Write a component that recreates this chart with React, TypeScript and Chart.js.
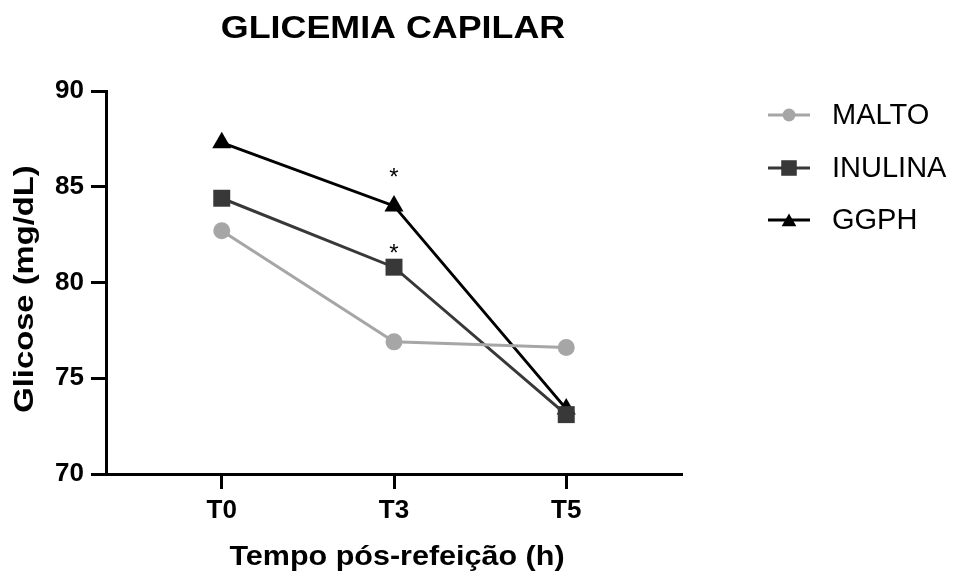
import React, { useEffect, useRef } from 'react';
import { Chart, registerables } from 'chart.js';

Chart.register(...registerables);

// ---- data ----
const categories = ['T0', 'T3', 'T5'];
const seriesNames = ['MALTO', 'INULINA', 'GGPH'];
const malto = [82.7, 76.9, 76.6];
const inulina = [84.4, 80.8, 73.1];
const ggph = [87.3, 84.0, 73.4];
const yTickValues = [70, 75, 80, 85, 90];
// asterisks: [series index, category index]
const significant = [
  [2, 1],
  [1, 1],
];
const titleText = 'GLICEMIA CAPILAR';
const xTitleText = 'Tempo pós-refeição (h)';
const yTitleText = 'Glicose (mg/dL)';

// ---- styles ----
const FONT = '"Liberation Sans", Arial, Helvetica, sans-serif';
const colors = ['#a6a6a6', '#383838', '#000000'];
const pointStyles = ['circle', 'rect', 'triangle'];
const pointRadii = [8.5, 12, 11];
const legendRadii = [6.5, 11, 8.5];
const starOffsets = [0, -21, -35];

function drawMarker(ctx: CanvasRenderingContext2D, style: string, x: number, y: number, r: number, color: string) {
  ctx.save();
  ctx.fillStyle = color;
  ctx.beginPath();
  if (style === 'circle') {
    ctx.arc(x, y, r, 0, Math.PI * 2);
  } else if (style === 'rect') {
    const s = r * Math.SQRT1_2;
    ctx.rect(x - s, y - s, 2 * s, 2 * s);
  } else {
    for (let k = 0; k < 3; k++) {
      const a = (k * 2 * Math.PI) / 3;
      const px = x + Math.sin(a) * r;
      const py = y - Math.cos(a) * r;
      if (k === 0) ctx.moveTo(px, py);
      else ctx.lineTo(px, py);
    }
    ctx.closePath();
  }
  ctx.fill();
  ctx.restore();
}

function stretchText(
  ctx: CanvasRenderingContext2D,
  text: string,
  x: number,
  y: number,
  font: string,
  sx: number,
  rot = 0
) {
  ctx.save();
  ctx.translate(x, y);
  if (rot) ctx.rotate(rot);
  ctx.scale(sx, 1);
  ctx.font = font;
  ctx.fillStyle = '#000';
  ctx.textAlign = 'center';
  ctx.textBaseline = 'alphabetic';
  ctx.fillText(text, 0, 0);
  ctx.restore();
}

const overlayPlugin = {
  id: 'overlay',
  afterDraw(chart: any) {
    const ctx: CanvasRenderingContext2D = chart.ctx;
    const area = chart.chartArea;
    const cx = (area.left + area.right) / 2;

    // title
    stretchText(ctx, titleText, cx - 1, 38, `bold 32px ${FONT}`, 1.12);
    // x title
    stretchText(ctx, xTitleText, cx + 3, 565, `bold 28px ${FONT}`, 1.09);
    // y title
    stretchText(ctx, yTitleText, 33, 289, `bold 28px ${FONT}`, 1.17, -Math.PI / 2);

    // asterisks
    const xs = chart.scales.x;
    const ys = chart.scales.y;
    const all = [malto, inulina, ggph];
    ctx.save();
    ctx.font = `24px ${FONT}`;
    ctx.fillStyle = '#000';
    ctx.textAlign = 'center';
    ctx.textBaseline = 'alphabetic';
    significant.forEach(([s, i]) => {
      const px = xs.getPixelForValue(i);
      const py = ys.getPixelForValue(all[s][i]) + starOffsets[s];
      ctx.fillText('*', px, py + 24 * 0.6);
    });
    ctx.restore();

    // legend
    const ly = [115, 168, 220];
    seriesNames.forEach((name, k) => {
      ctx.save();
      ctx.strokeStyle = colors[k];
      ctx.lineWidth = 3;
      ctx.beginPath();
      ctx.moveTo(768, ly[k]);
      ctx.lineTo(810, ly[k]);
      ctx.stroke();
      ctx.restore();
      drawMarker(ctx, pointStyles[k], 789, ly[k] + (pointStyles[k] === 'triangle' ? 2 : 0), legendRadii[k], colors[k]);
      ctx.save();
      ctx.font = `29px ${FONT}`;
      ctx.fillStyle = '#000';
      ctx.textAlign = 'left';
      ctx.textBaseline = 'middle';
      ctx.fillText(name, 832, ly[k] + 1);
      ctx.restore();
    });
  },
};

export default function App() {
  const ref = useRef<HTMLCanvasElement>(null);

  useEffect(() => {
    if (!ref.current) return;
    const all = [malto, inulina, ggph];
    const chart = new Chart(ref.current, {
      type: 'line',
      data: {
        datasets: seriesNames.map((name, k) => ({
          label: name,
          data: all[k].map((v, i) => ({ x: i, y: v })),
          borderColor: colors[k],
          backgroundColor: colors[k],
          pointBackgroundColor: colors[k],
          pointBorderColor: colors[k],
          pointBorderWidth: 0,
          pointStyle: pointStyles[k] as any,
          pointRadius: pointRadii[k],
          borderWidth: 3,
          tension: 0,
          fill: false,
        })),
      },
      options: {
        responsive: false,
        animation: false,
        devicePixelRatio: 1,
        layout: { padding: { left: 0, top: 91, right: 274, bottom: 0 } },
        plugins: {
          legend: { display: false },
          title: { display: false },
          tooltip: { enabled: false },
        },
        scales: {
          x: {
            type: 'linear',
            min: -0.672,
            max: 2.672,
            afterFit(scale: any) {
              scale.height = 110;
            },
            afterBuildTicks(scale: any) {
              scale.ticks = categories.map((_, i) => ({ value: i }));
            },
            ticks: {
              callback: (v: any) => categories[Number(v)] ?? '',
              font: { family: FONT, size: 26, weight: 'bold' },
              color: '#000',
              padding: 6,
              maxRotation: 0,
            },
            grid: {
              drawOnChartArea: false,
              drawTicks: true,
              tickLength: 15,
              tickWidth: 3,
              tickColor: '#000',
            },
            border: { display: true, color: '#000', width: 3 },
          },
          y: {
            type: 'linear',
            min: 70,
            max: 90,
            afterFit(scale: any) {
              scale.width = 106;
            },
            afterBuildTicks(scale: any) {
              scale.ticks = yTickValues.map((v) => ({ value: v }));
            },
            ticks: {
              font: { family: FONT, size: 26, weight: 'bold' },
              color: '#000',
              padding: 7,
            },
            grid: {
              drawOnChartArea: false,
              drawTicks: true,
              tickLength: 15,
              tickWidth: 3,
              tickColor: '#000',
            },
            border: { display: true, color: '#000', width: 3 },
          },
        },
      },
      plugins: [overlayPlugin],
    });
    return () => chart.destroy();
  }, []);

  return (
    <div style={{ position: 'fixed', left: 0, top: 0, width: 956, height: 584, background: '#fff' }}>
      <canvas ref={ref} width={956} height={584} />
    </div>
  );
}
